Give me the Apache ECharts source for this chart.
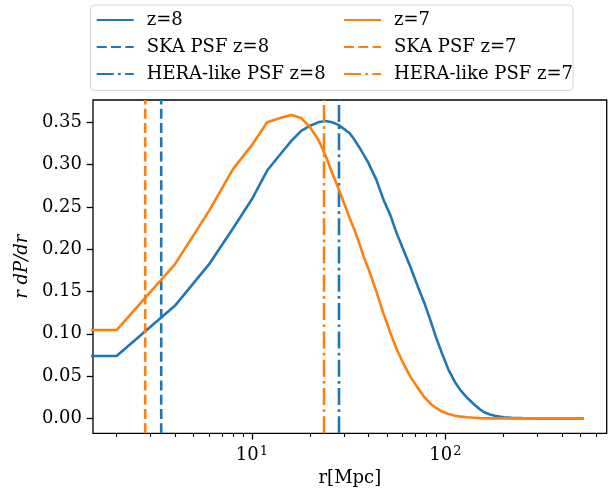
<!DOCTYPE html>
<html>
<head>
<meta charset="utf-8">
<script src="https://cdn.jsdelivr.net/npm/echarts@6/dist/echarts.min.js"></script>
<style>
html,body{margin:0;padding:0;background:#fff;}
#chart{width:614px;height:496px;}
</style>
</head>
<body>
<div id="chart"></div>
<script>
// r in Mpc. The first bin is r = 0 in the source (off a log axis); it sits left of the visible range.
const r = [1, 2, 4, 6, 8, 10, 12, 14, 16, 18, 20, 22, 24, 26, 28, 30, 32, 34, 36, 38, 40, 44, 48, 52, 56, 60, 66, 72, 78, 84, 90, 96, 104, 112, 120, 130, 140, 150, 160, 170, 180, 200, 220, 250, 300, 400, 520];
const z8 = [0.0737, 0.0737, 0.133, 0.182, 0.2247, 0.259, 0.293, 0.312, 0.328, 0.340, 0.346, 0.350, 0.3515, 0.350, 0.347, 0.342, 0.337, 0.329, 0.320, 0.311, 0.302, 0.282, 0.258, 0.240, 0.219, 0.202, 0.179, 0.156, 0.136, 0.115, 0.094, 0.077, 0.057, 0.043, 0.033, 0.024, 0.017, 0.011, 0.0068, 0.0045, 0.003, 0.0012, 0.0005, 0.0002, 0, 0, 0];
const z7 = [0.1044, 0.1044, 0.182, 0.245, 0.295, 0.323, 0.350, 0.355, 0.3587, 0.355, 0.344, 0.330, 0.311, 0.290, 0.272, 0.254, 0.237, 0.222, 0.206, 0.190, 0.177, 0.150, 0.123, 0.101, 0.082, 0.067, 0.049, 0.036, 0.025, 0.017, 0.012, 0.008, 0.005, 0.003, 0.002, 0.0012, 0.0006, 0.0003, 0.0001, 0, 0, 0, 0, 0, 0, 0, 0];
// PSF scales (Mpc)
const skaPSF = { z8: 3.40, z7: 2.81 };
const heraPSF = { z8: 28.2, z7: 23.6 };
// axes
const xMin = 1.51, xMax = 682;
const yMin = -0.0177, yMax = 0.3764;
const xMajorTicks = [10, 100];
const xMinorTicks = [2, 3, 4, 5, 6, 7, 8, 9, 20, 30, 40, 50, 60, 70, 80, 90, 200, 300, 400, 500, 600];
const yTicks = [0, 0.05, 0.10, 0.15, 0.20, 0.25, 0.30, 0.35];
const legendCol1 = ['z=8', 'SKA PSF z=8', 'HERA-like PSF z=8'];
const legendCol2 = ['z=7', 'SKA PSF z=7', 'HERA-like PSF z=7'];

const BLUE = '#1f77b4', ORANGE = '#ff7f0e';
const FONT = 'DejaVu Serif';
const LW = 2.6;
const DASH = [10, 4.3];
const DASHDOT = [17, 4.3, 2.7, 4.3];

function curve(name, vals, color) {
  return {
    name, type: 'line', data: r.map((x, i) => [x, vals[i]]),
    showSymbol: false, symbol: 'none', clip: true,
    lineStyle: { color, width: LW }, itemStyle: { color },
    emphasis: { disabled: true }
  };
}
function vline(name, x, color, dash) {
  return {
    name, type: 'line', data: [[x, yMin], [x, yMax]],
    showSymbol: false, symbol: 'none', clip: true,
    lineStyle: { color, width: LW, type: dash }, itemStyle: { color },
    emphasis: { disabled: true }
  };
}

const chart = echarts.init(document.getElementById('chart'), null, { renderer: 'canvas' });
const legendBase = {
  orient: 'vertical', itemWidth: 37, itemHeight: 14, itemGap: 9, padding: 0,
  textStyle: { fontFamily: FONT, fontSize: 18, color: '#000', padding: [0, 0, 0, 8] },
  itemStyle: { opacity: 0 },
  selectedMode: false
};
chart.setOption({
  animation: false,
  graphic: [{
    type: 'rect', z: 0,
    shape: { x: 90.5, y: 5, width: 482.5, height: 85.5, r: 4 },
    style: { fill: '#fff', stroke: '#d4d4d4', lineWidth: 1 }
  }],
  legend: [
    Object.assign({}, legendBase, { data: legendCol1, left: 95.7, top: 11 }),
    Object.assign({}, legendBase, { data: legendCol2, left: 343, top: 11 })
  ],
  grid: { left: 93, right: 7.3, top: 100, bottom: 62.7, show: true, borderColor: '#000', borderWidth: 1.3, backgroundColor: 'transparent' },
  xAxis: [{
    type: 'log', logBase: 10, min: xMin, max: xMax, position: 'bottom',
    axisLine: { show: false, onZero: false },
    axisTick: { show: true, customValues: xMajorTicks, length: 6.3, lineStyle: { color: '#000', width: 1.3 } },
    axisLabel: {
      customValues: xMajorTicks, margin: 12, color: '#000', fontFamily: FONT, fontSize: 18,
      formatter: v => '{b|10}{s|' + Math.round(Math.log10(v)) + '}',
      rich: { b: { fontFamily: FONT, fontSize: 18, color: '#000' }, s: { fontFamily: FONT, fontSize: 13, color: '#000', verticalAlign: 'top', padding: [0, 0, 8, 1] } }
    },
    splitLine: { show: false }, minorTick: { show: false },
    name: 'r[Mpc]', nameLocation: 'middle', nameGap: 34,
    nameTextStyle: { fontFamily: FONT, fontSize: 18, color: '#000' }
  }, {
    type: 'log', logBase: 10, min: xMin, max: xMax, position: 'bottom',
    axisLine: { show: false, onZero: false },
    axisTick: { show: true, customValues: xMinorTicks, length: 3.6, lineStyle: { color: '#000', width: 1.1 } },
    axisLabel: { show: false }, splitLine: { show: false }
  }],
  yAxis: {
    type: 'value', min: yMin, max: yMax, position: 'left',
    axisLine: { show: false, onZero: false },
    axisTick: { show: true, customValues: yTicks, length: 6.3, lineStyle: { color: '#000', width: 1.3 } },
    axisLabel: { customValues: yTicks, margin: 11, color: '#000', fontFamily: FONT, fontSize: 18, formatter: v => v.toFixed(2) },
    splitLine: { show: false },
    name: 'r dP/dr', nameLocation: 'middle', nameGap: 58, nameRotate: 90,
    nameTextStyle: { fontFamily: FONT, fontSize: 18, fontStyle: 'italic', color: '#000' }
  },
  series: [
    curve('z=8', z8, BLUE),
    vline('SKA PSF z=8', skaPSF.z8, BLUE, DASH),
    vline('HERA-like PSF z=8', heraPSF.z8, BLUE, DASHDOT),
    curve('z=7', z7, ORANGE),
    vline('SKA PSF z=7', skaPSF.z7, ORANGE, DASH),
    vline('HERA-like PSF z=7', heraPSF.z7, ORANGE, DASHDOT)
  ]
});
</script>
</body>
</html>
